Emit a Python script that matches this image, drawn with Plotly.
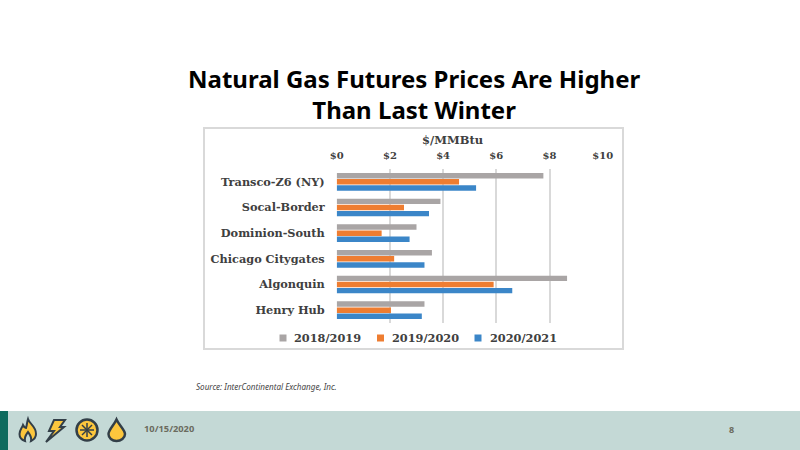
import plotly.graph_objects as go

W, H = 800, 450

hubs = ["Transco-Z6 (NY)", "Socal-Border", "Dominion-South", "Chicago Citygates", "Algonquin", "Henry Hub"]
seasons = ["2018/2019", "2019/2020", "2020/2021"]
prices_2018 = [7.77, 3.90, 3.00, 3.58, 8.66, 3.30]
prices_2019 = [4.60, 2.53, 1.69, 2.16, 5.90, 2.04]
prices_2020 = [5.24, 3.47, 2.74, 3.30, 6.60, 3.20]
colors = ["#a9a5a5", "#ee7d31", "#3b86c8"]
tick_vals = [0, 2, 4, 6, 8, 10]
tick_text = ["$0", "$2", "$4", "$6", "$8", "$10"]

SERIF = "DejaVu Serif"
SANS = "Noto Sans"
ICON_FILL = "#fcc63d"
ICON_LINE = "#333f48"
TEXT = "#404040"


def px(x):
    return x / W


def py(y):
    return 1 - y / H


def rect(x0, y0, x1, y1, **kw):
    return dict(type="rect", xref="paper", yref="paper", x0=px(x0), x1=px(x1), y0=py(y0), y1=py(y1), **kw)


def icon(cmds, fill=ICON_FILL, line=ICON_LINE, width=2):
    # cmds: list of (letter, x, y, x, y...) in pixels of the page
    parts = []
    for c in cmds:
        nums = []
        for i in range(1, len(c), 2):
            nums.append(f"{px(c[i]):.5f},{py(c[i + 1]):.5f}")
        parts.append(c[0] + " ".join(nums))
    return dict(type="path", xref="paper", yref="paper", path=" ".join(parts) + " Z",
                fillcolor=fill, line=dict(color=line, width=width))


def circle(cx, cy, r, **kw):
    return dict(type="circle", xref="paper", yref="paper", x0=px(cx - r), x1=px(cx + r),
                y0=py(cy + r), y1=py(cy - r), **kw)


fig = go.Figure()
for name, vals, col in zip(seasons, [prices_2018, prices_2019, prices_2020], colors):
    fig.add_trace(go.Bar(y=hubs, x=vals, name=name, orientation="h", showlegend=False,
                         marker=dict(color=col, line_width=0)))

shapes = [
    rect(204, 128, 623, 349, fillcolor="white", line=dict(color="#d9d9d9", width=2), layer="below"),
    rect(0, 411, 800, 450, fillcolor="#c4d9d6", line_width=0, layer="below"),
    rect(0, 411, 8, 450, fillcolor="#0e6b5e", line_width=0, layer="below"),
    # flame
    icon([("M", 28, 419), ("C", 30, 425, 36, 426, 36, 434), ("C", 36, 438, 33, 440, 31, 441),
          ("C", 32, 437, 30, 435, 28, 432), ("C", 26, 435, 24, 437, 25, 441),
          ("C", 22, 440, 19.5, 438, 19.5, 434), ("C", 19.5, 430, 22, 428, 23, 425),
          ("C", 24, 427, 25, 428, 26, 428), ("C", 27, 425, 27, 422, 28, 419)]),
    # bolt
    icon([("M", 54, 420), ("L", 65, 420), ("L", 60, 427), ("L", 64, 427), ("L", 46, 442),
          ("L", 54, 431), ("L", 49, 431)]),
    # wheel
    circle(87, 430, 10.5, fillcolor=ICON_FILL, line=dict(color=ICON_LINE, width=2.5)),
    # drop
    icon([("M", 116.5, 419.5), ("C", 119, 425, 125, 430, 125, 434), ("C", 125, 438, 121, 441, 116.5, 441),
          ("C", 112, 441, 108.5, 438, 108.5, 434), ("C", 108.5, 430, 114, 425, 116.5, 419.5)], width=2.5),
]
# wheel spokes
for dx, dy in [(7, 0), (5, 5), (0, 7), (-5, 5), (-7, 0), (-5, -5), (0, -7), (5, -5)]:
    shapes.append(dict(type="line", xref="paper", yref="paper", x0=px(87), y0=py(430),
                       x1=px(87 + dx), y1=py(430 + dy), line=dict(color=ICON_LINE, width=1.5)))

annotations = [
    dict(text="<b>Natural Gas Futures Prices Are Higher<br>Than Last Winter</b>", x=px(414), y=py(94),
         align="center", font=dict(family=SANS, size=24, color="black")),
    dict(text="<i>Source: InterContinental Exchange, Inc.</i>", x=px(194), y=py(386), xanchor="left",
         font=dict(family=SANS, size=8.1, color="#444444")),
    dict(text="<b>10/15/2020</b>", x=px(142), y=py(428), xanchor="left",
         font=dict(family=SANS, size=9.3, color="#6b6b5e")),
    dict(text="<b>8</b>", x=px(736), y=py(429), font=dict(family=SANS, size=9, color="#6b6b5e")),
    dict(text="<b>$/MMBtu</b>", x=px(452.5), y=py(140), font=dict(family=SERIF, size=11.5, color=TEXT)),
]

# legend row, small squares sit close to the text like in the slide
for name, col, sx, tx in zip(seasons, colors, [283, 380.5, 478], [292, 390, 488]):
    shapes.append(rect(sx - 3.5, 334.5, sx + 3.5, 341.5, fillcolor=col, line_width=0))
    annotations.append(dict(text=f"<b>{name}</b>", x=px(tx), y=py(338), xanchor="left",
                            font=dict(family=SERIF, size=11.3, color=TEXT)))

for a in annotations:
    a.update(xref="paper", yref="paper", showarrow=False, yanchor="middle")

fig.update_layout(
    width=W, height=H, margin=dict(l=0, r=0, t=0, b=0, pad=0),
    paper_bgcolor="white", plot_bgcolor="white",
    barmode="group", bargap=0.28, bargroupgap=0.12,
    shapes=shapes, annotations=annotations, showlegend=False,
    font=dict(family=SERIF, color=TEXT),
    xaxis=dict(domain=[px(336.7), px(602.7)], side="top", range=[0, 10], tickvals=tick_vals, ticktext=tick_text,
               showgrid=True, gridcolor="#d9d9d9", gridwidth=2, zeroline=False, showline=False, ticks="",
               automargin=False, tickfont=dict(family=SERIF, size=10, weight="bold", color=TEXT), anchor="y",
               ticklabelstandoff=7),
    yaxis=dict(domain=[py(323), py(169)], autorange="reversed", showgrid=False, zeroline=False, showline=False,
               automargin=False, ticks="", ticklabelstandoff=11,
               tickfont=dict(family=SERIF, size=11.3, weight="bold", color=TEXT)),
)

fig.write_html("out.html", config={"displayModeBar": False}, post_script="document.body.style.margin='0';")
